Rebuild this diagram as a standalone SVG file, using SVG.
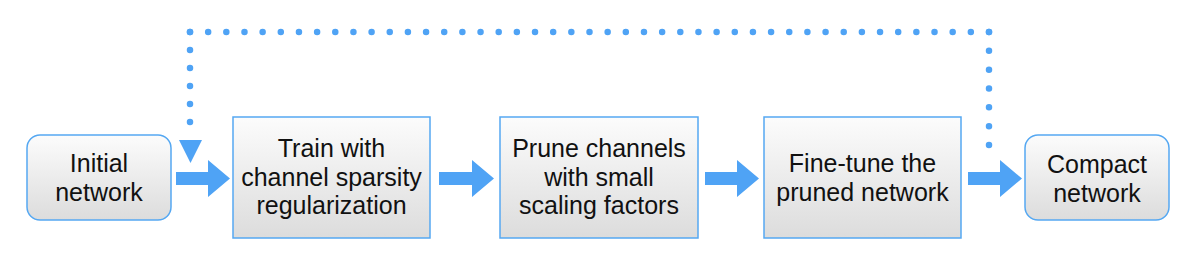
<svg xmlns="http://www.w3.org/2000/svg" width="1182" height="258" viewBox="0 0 1182 258">
<defs>
<linearGradient id="g" x1="0" y1="0" x2="0" y2="1">
<stop offset="0" stop-color="#fcfcfc"/>
<stop offset="1" stop-color="#dcdcdc"/>
</linearGradient>
</defs>
<style>
.box{fill:url(#g);stroke:#55a8f2;stroke-width:1.5}
.t{font-family:"Liberation Sans",Arial,sans-serif;font-size:25px;fill:#111;text-anchor:middle}
.arr{fill:#4fa3f5}
.dot{fill:none;stroke:#4fa3f5;stroke-width:6.5;stroke-linecap:round}
</style>
<g id="connectors">
<path class="dot" d="M190 32 H989" stroke-dasharray="0 18.159"/>
<path class="dot" d="M989 32 V145" stroke-dasharray="0 18.833"/>
<path class="dot" d="M190 32 V140" stroke-dasharray="0 18"/>
<polygon class="arr" points="179,140 202,140 190.5,163"/>
<polygon class="arr" points="176,172 208,172 208,160 230,178.5 208,197 208,185 176,185"/>
<polygon class="arr" points="439,172 472,172 472,160 494,178.5 472,197 472,185 439,185"/>
<polygon class="arr" points="705,172 737,172 737,160 759,178.5 737,197 737,185 705,185"/>
<polygon class="arr" points="968,172 1000,172 1000,160 1022,178.5 1000,197 1000,185 968,185"/>
</g>
<g id="n1">
<rect class="box" x="27" y="135" width="144" height="85" rx="13"/>
<text class="t" x="99" y="172">Initial</text>
<text class="t" x="99" y="201">network</text>
</g>
<g id="n2">
<rect class="box" x="233" y="117" width="197" height="121"/>
<text class="t" x="331.5" y="157">Train with</text>
<text class="t" x="331.5" y="186">channel sparsity</text>
<text class="t" x="331.5" y="214">regularization</text>
</g>
<g id="n3">
<rect class="box" x="500" y="117" width="198" height="121"/>
<text class="t" x="599" y="157">Prune channels</text>
<text class="t" x="599" y="186">with small</text>
<text class="t" x="599" y="214">scaling factors</text>
</g>
<g id="n4">
<rect class="box" x="764" y="117" width="197" height="121"/>
<text class="t" x="862.5" y="172">Fine-tune the</text>
<text class="t" x="862.5" y="201">pruned network</text>
</g>
<g id="n5">
<rect class="box" x="1025" y="135" width="144" height="85" rx="13"/>
<text class="t" x="1097" y="173">Compact</text>
<text class="t" x="1097" y="202">network</text>
</g>
</svg>
